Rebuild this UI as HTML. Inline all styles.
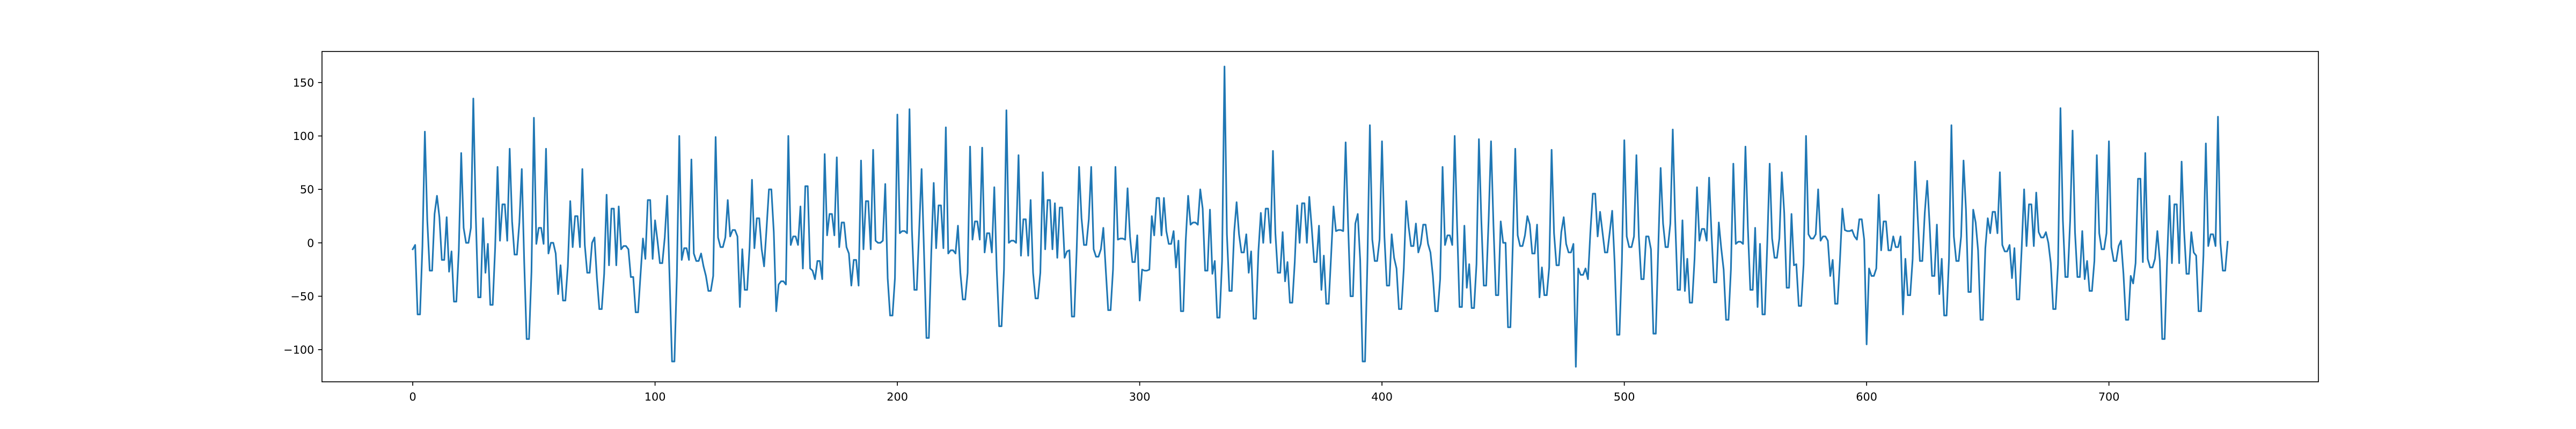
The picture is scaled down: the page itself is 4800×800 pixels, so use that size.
<!DOCTYPE html>
<html><head><meta charset="utf-8"><style>
html,body{margin:0;padding:0;background:#fff;}
svg{display:block;font-family:"DejaVu Sans","Liberation Sans",sans-serif;}
</style></head><body>
<svg id="chart" width="4800" height="800" viewBox="0 0 4800 800">
<rect width="4800" height="800" fill="#fff"/>
<g id="plot"></g>
<g id="xaxis"></g>
<g id="yaxis"></g>
<rect x="600" y="96" width="3720" height="616" fill="none" stroke="#000" stroke-width="1.67"/>
</svg>
<script>
const seriesValues = [
-6,-2,-67,-67,-3,104,21,-26,-26,27,
44,24,-16,-16,24,-27,-8,-55,-55,-7,
84,14,0,0,14,135,26,-51,-51,23,
-28,-1,-58,-58,-5,71,2,36,36,2,
88,20,-11,-11,19,69,-18,-90,-90,-27,
117,-1,14,14,-1,88,-10,0,0,-10,
-48,-21,-54,-54,-22,39,-4,25,25,-4,
69,-2,-28,-28,0,5,-33,-62,-62,-29,
45,-21,32,32,-21,34,-6,-3,-3,-6,
-32,-32,-65,-65,-30,4,-15,40,40,-15,
21,2,-19,-19,5,44,-33,-111,-111,-31,
100,-16,-5,-5,-16,78,-10,-17,-17,-10,
-22,-31,-45,-45,-31,99,5,-4,-4,5,
40,6,12,12,6,-60,-6,-44,-44,-5,
59,-5,23,23,-6,-22,13,50,50,10,
-64,-39,-36,-36,-39,100,-2,6,6,-2,
34,-24,53,53,-24,-26,-34,-17,-17,-34,
83,7,27,27,7,80,-4,19,19,-4,
-10,-40,-16,-16,-40,77,-6,39,39,-6,
87,2,0,0,2,55,-33,-68,-68,-33,
120,9,11,11,9,125,12,-44,-44,12,
69,-9,-89,-89,-9,56,-5,35,35,-5,
108,-10,-7,-7,-10,16,-28,-53,-53,-28,
90,3,20,20,3,89,-9,9,9,-9,
52,-25,-78,-78,-25,124,0,2,2,0,
82,-12,22,22,-12,40,-28,-52,-52,-28,
66,-6,40,40,-6,37,-14,33,33,-14,
-8,-7,-69,-69,-7,71,23,-2,-2,22,
71,-6,-13,-13,-6,14,-25,-63,-63,-25,
71,3,4,4,3,51,6,-18,-18,7,
-54,-25,-26,-26,-25,25,7,42,42,7,
42,11,-1,-1,11,-23,2,-64,-64,2,
44,17,19,19,17,50,32,-26,-26,31,
-29,-17,-70,-70,-17,165,8,-45,-45,10,
38,8,-9,-9,8,-28,-8,-71,-71,-8,
28,0,32,32,0,86,9,-28,-28,10,
-36,-18,-56,-56,-18,35,0,37,37,0,
43,14,-18,-18,16,-44,-12,-57,-57,-12,
34,11,12,12,11,94,18,-50,-50,18,
27,-16,-111,-111,-16,110,3,-17,-17,3,
95,6,-40,-40,8,-14,-24,-62,-62,-24,
39,15,-3,-3,18,-9,-1,17,17,-1,
-9,-31,-64,-64,-34,71,-2,7,7,-2,
100,16,-60,-60,16,-42,-20,-61,-61,-20,
97,21,-40,-40,21,95,17,-49,-49,20,
0,0,-79,-79,0,88,7,-3,-3,7,
25,17,-10,-10,17,-51,-23,-49,-49,-23,
87,9,-21,-21,10,24,-1,-9,-9,-1,
-116,-24,-30,-30,-24,-34,10,46,46,6,
29,10,-9,-9,10,30,-18,-86,-86,-18,
96,6,-4,-4,6,82,6,-34,-34,6,
6,-6,-85,-85,-6,70,18,-4,-4,18,
106,21,-44,-44,21,-45,-15,-56,-56,-15,
52,2,13,13,2,61,8,-37,-37,19,
-5,-25,-72,-72,-25,74,-1,1,1,-1,
90,14,-44,-44,14,-60,-1,-67,-67,-1,
74,4,-14,-14,4,66,28,-42,-42,27,
-21,-20,-59,-59,-20,100,8,4,4,8,
50,2,6,6,2,-31,-16,-57,-57,-16,
32,12,11,11,12,6,3,22,22,3,
-95,-24,-31,-31,-24,45,-7,20,20,-7,
-7,6,-4,-4,6,-67,-15,-49,-49,-15,
76,28,-17,-17,28,58,17,-31,-31,17,
-48,-15,-68,-68,-15,110,6,-17,-17,6,
77,31,-46,-46,31,19,-7,-72,-72,-5,
23,9,29,29,9,66,-2,-8,-8,-2,
-33,-5,-53,-53,-5,50,-3,36,36,-3,
47,10,5,5,10,0,-19,-62,-62,-20,
126,21,-32,-32,21,105,10,-32,-32,11,
-34,-17,-45,-45,-17,82,9,-6,-6,9,
95,-4,-17,-17,-3,2,-29,-72,-72,-31,
-38,-19,60,60,-18,84,-15,-23,-23,-15,
11,-17,-90,-90,-17,44,-19,36,36,-19,
76,12,-29,-29,10,-9,-12,-64,-64,-12,
93,-3,8,8,-3,118,0,-26,-26,1
];
const xTickValues = [0,100,200,300,400,500,600,700];
const yTickValues = [-100,-50,0,50,100,150];
const yTickLabels = ["\u2212100","\u221250","0","50","100","150"];

const NS = "http://www.w3.org/2000/svg";
const L = 600, R = 4320, T = 96, B = 712;
const n = seriesValues.length;
const xMin = -(n - 1) * 0.05, xMax = (n - 1) * 1.05;
const vMin = Math.min(...seriesValues), vMax = Math.max(...seriesValues);
const pad = (vMax - vMin) * 0.05;
const yMin = vMin - pad, yMax = vMax + pad;
function xScale(v){ return L + (v - xMin) / (xMax - xMin) * (R - L); }
function yScale(v){ return B - (v - yMin) / (yMax - yMin) * (B - T); }

const plot = document.getElementById('plot');
const pts = seriesValues.map((v, i) => xScale(i).toFixed(2) + ',' + yScale(v).toFixed(2)).join(' ');
const line = document.createElementNS(NS, 'polyline');
line.setAttribute('points', pts);
line.setAttribute('fill', 'none');
line.setAttribute('stroke', '#1f77b4');
line.setAttribute('stroke-width', '3.1');
line.setAttribute('stroke-linejoin', 'round');
line.setAttribute('stroke-linecap', 'square');


plot.appendChild(line);

const xa = document.getElementById('xaxis');
xTickValues.forEach(v => {
  const x = xScale(v);
  const t = document.createElementNS(NS, 'line');
  t.setAttribute('x1', x); t.setAttribute('x2', x);
  t.setAttribute('y1', B); t.setAttribute('y2', B + 7.3);
  t.setAttribute('stroke', '#000'); t.setAttribute('stroke-width', '1.67');
  
  
  xa.appendChild(t);
  const lb = document.createElementNS(NS, 'text');
  lb.setAttribute('x', x); lb.setAttribute('y', B + 35);
  lb.setAttribute('text-anchor', 'middle');
  lb.setAttribute('font-size', '20.8');
  lb.textContent = String(v);
  
  
  xa.appendChild(lb);
});
const ya = document.getElementById('yaxis');
yTickValues.forEach((v, i) => {
  const y = yScale(v);
  const t = document.createElementNS(NS, 'line');
  t.setAttribute('x1', L - 7.3); t.setAttribute('x2', L);
  t.setAttribute('y1', y); t.setAttribute('y2', y);
  t.setAttribute('stroke', '#000'); t.setAttribute('stroke-width', '1.67');
  
  
  ya.appendChild(t);
  const lb = document.createElementNS(NS, 'text');
  lb.setAttribute('x', L - 14.6); lb.setAttribute('y', y + 7.5);
  lb.setAttribute('text-anchor', 'end');
  lb.setAttribute('font-size', '20.8');
  lb.textContent = yTickLabels[i];
  
  
  ya.appendChild(lb);
});
</script>
</body></html>
